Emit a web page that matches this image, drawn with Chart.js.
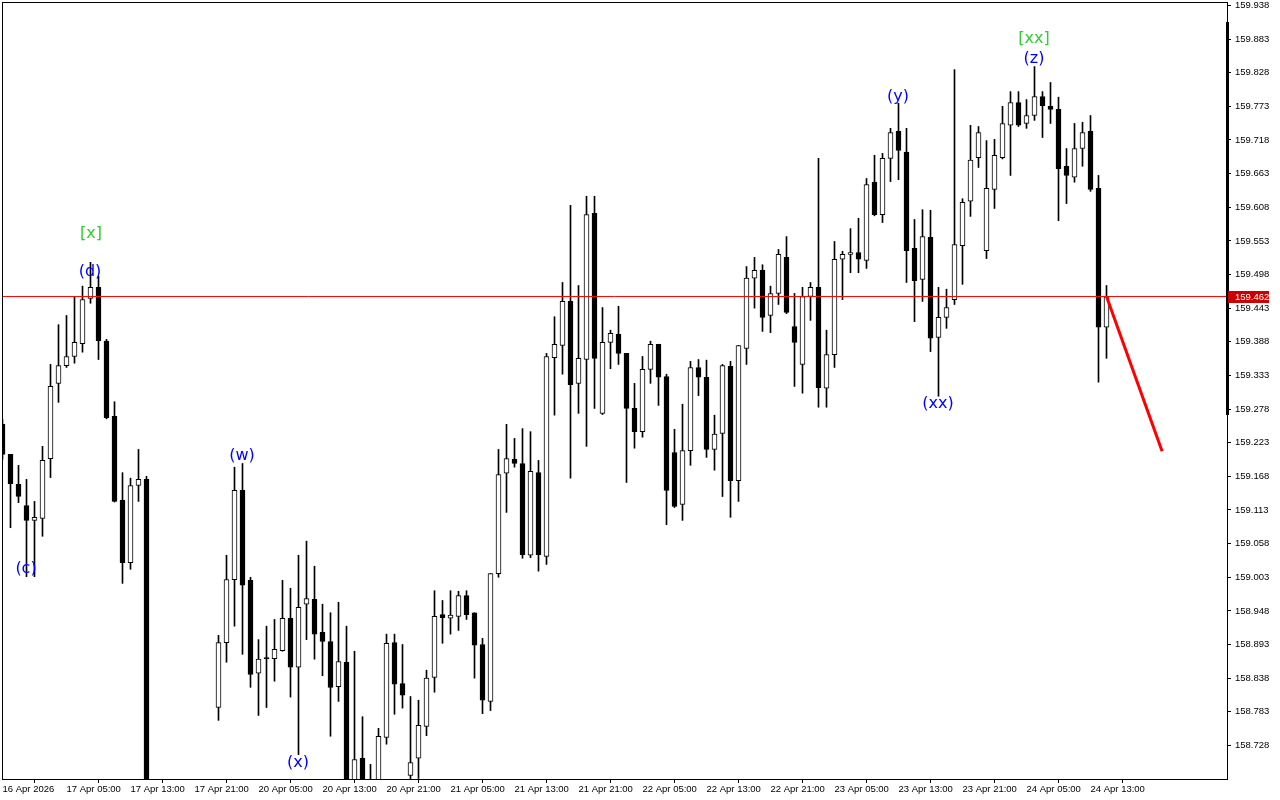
<!DOCTYPE html>
<html>
<head>
<meta charset="utf-8">
<title>H1 candles</title>
<script src="https://cdn.jsdelivr.net/npm/chart.js@4.4.1/dist/chart.umd.min.js"></script>
<style>
  html, body { margin:0; padding:0; background:#fff; }
  #wrap { width:1280px; height:800px; }
</style>
</head>
<body>
<div id="wrap"><canvas id="chart" width="1280" height="800"></canvas></div>
<script>
// ── Candle data (one bar per hour, index = bar number, null = off-screen) ──
const open = [
  159.253,159.204,159.155,159.120,159.096,159.099,159.197,159.320,159.349,159.364,
  159.385,159.459,159.477,159.389,159.266,159.129,159.027,159.153,159.163,null,
  null,null,null,null,null,null,null,158.790,158.896,158.999,
  159.145,158.998,158.846,158.870,158.870,158.883,158.936,158.856,158.959,158.967,
  158.913,158.898,158.824,158.864,158.660,158.707,158.660,158.665,158.741,158.896,
  158.829,158.679,158.707,158.759,158.839,158.942,158.936,158.939,158.973,158.945,
  158.893,158.800,159.009,159.173,159.196,159.189,159.039,159.174,159.037,159.362,
  159.382,159.454,159.320,159.359,159.598,159.271,159.387,159.400,159.369,159.279,
  159.241,159.343,159.384,159.331,159.207,159.122,159.210,159.346,159.330,159.212,
  159.238,159.348,159.161,159.377,159.492,159.505,159.431,159.467,159.526,159.413,
  159.351,159.462,159.477,159.312,159.367,159.523,159.531,159.534,159.521,159.649,
  159.596,159.688,159.732,159.698,159.541,159.490,159.559,159.395,159.428,159.457,
  159.545,159.618,159.689,159.537,159.637,159.689,159.742,159.779,159.745,159.758,
  159.789,159.773,159.768,159.675,159.657,159.704,159.732,159.639,159.412
];
const high = [
  159.261,159.204,159.186,159.163,159.127,159.217,159.351,159.416,159.431,159.462,
  159.479,159.518,159.495,159.392,159.290,159.174,159.165,159.212,159.168,null,
  null,null,null,null,null,null,null,158.908,159.039,159.183,
  159.189,159.003,158.901,158.923,158.934,158.998,158.985,159.039,159.062,159.021,
  158.959,158.945,158.962,158.923,158.882,158.775,158.697,158.756,158.910,158.910,
  158.893,158.808,158.802,158.851,158.981,158.965,158.981,158.980,158.981,158.945,
  158.903,159.009,159.212,159.253,159.230,159.246,159.241,159.194,159.369,159.429,
  159.485,159.611,159.480,159.626,159.626,159.444,159.407,159.446,159.369,159.320,
  159.364,159.389,159.384,159.335,159.245,159.286,159.356,159.359,159.358,159.268,
  159.351,159.356,159.382,159.511,159.526,159.514,159.479,159.539,159.560,159.467,
  159.477,159.485,159.688,159.407,159.552,159.536,159.573,159.590,159.655,159.693,
  159.696,159.737,159.778,159.737,159.588,159.604,159.603,159.477,159.474,159.833,
  159.622,159.742,159.740,159.717,159.719,159.773,159.797,159.797,159.784,159.838,
  159.797,159.812,159.788,159.704,159.745,159.747,159.758,159.660,159.480
];
const low = [
  159.196,159.084,159.125,159.004,159.004,159.070,159.166,159.289,159.346,159.353,
  159.371,159.451,159.359,159.262,159.126,158.993,159.016,159.127,158.600,null,
  null,null,null,null,null,null,null,158.769,158.864,158.923,
  158.877,158.823,158.777,158.790,158.833,158.882,158.807,158.713,158.901,158.869,
  158.842,158.743,158.800,158.640,158.640,158.630,158.620,158.645,158.730,158.779,
  158.789,158.672,158.674,158.744,158.815,158.895,158.910,158.916,158.934,158.838,
  158.780,158.785,159.003,159.109,159.183,159.034,159.035,159.013,159.024,159.268,
  159.335,159.165,159.271,159.217,159.279,159.269,159.344,159.351,159.158,159.214,
  159.232,159.320,159.284,159.089,159.117,159.096,159.186,159.300,159.199,159.178,
  159.135,159.101,159.127,159.351,159.443,159.405,159.403,159.449,159.434,159.315,
  159.304,159.423,159.281,159.281,159.346,159.457,159.501,159.501,159.508,159.594,
  159.583,159.650,159.653,159.485,159.421,159.454,159.372,159.299,159.410,159.449,
  159.482,159.593,159.673,159.524,159.606,159.687,159.660,159.740,159.737,159.750,
  159.722,159.745,159.586,159.614,159.649,159.675,159.634,159.322,159.361
];
const close = [
  159.204,159.156,159.135,159.096,159.101,159.194,159.315,159.349,159.364,159.387,
  159.457,159.477,159.390,159.264,159.127,159.027,159.153,159.163,158.640,null,
  null,null,null,null,null,null,null,158.896,158.999,159.145,
  158.990,158.844,158.869,158.870,158.885,158.936,158.856,158.954,158.968,158.910,
  158.898,158.823,158.865,158.660,158.705,158.665,158.655,158.743,158.895,158.828,
  158.810,158.700,158.761,158.838,158.939,158.937,158.941,158.973,158.942,158.892,
  158.802,159.009,159.171,159.197,159.189,159.040,159.176,159.040,159.364,159.384,
  159.454,159.318,159.361,159.596,159.361,159.387,159.402,159.369,159.279,159.241,
  159.343,159.384,159.330,159.145,159.119,159.210,159.346,159.330,159.212,159.237,
  159.349,159.161,159.382,159.492,159.505,159.428,159.467,159.531,159.436,159.387,
  159.462,159.477,159.313,159.367,159.523,159.531,159.534,159.523,159.645,159.596,
  159.688,159.730,159.701,159.537,159.488,159.560,159.394,159.428,159.444,159.547,
  159.616,159.685,159.730,159.639,159.693,159.745,159.779,159.742,159.758,159.789,
  159.774,159.768,159.671,159.660,159.704,159.730,159.637,159.412,159.462
];

// time axis: a label every 8 bars
const timeTickBars = [0,8,16,24,32,40,48,56,64,72,80,88,96,104,112,120,128,136];
const timeLabels = [
  '16 Apr 2026','17 Apr 05:00','17 Apr 13:00','17 Apr 21:00','20 Apr 05:00','20 Apr 13:00',
  '20 Apr 21:00','21 Apr 05:00','21 Apr 13:00','21 Apr 21:00','22 Apr 05:00','22 Apr 13:00',
  '22 Apr 21:00','23 Apr 05:00','23 Apr 13:00','23 Apr 21:00','24 Apr 05:00','24 Apr 13:00'
];

// price axis
const priceTicks = [
  159.938,159.883,159.828,159.773,159.718,159.663,159.608,159.553,159.498,159.443,159.388,159.333,
  159.278,159.223,159.168,159.113,159.058,159.003,158.948,158.893,158.838,158.783,158.728
];
const lastPrice = 159.462;

// forecast line (bar, price)
const forecastBars = [138, 144.95];
const forecastPrices = [159.462, 159.209];

// wave labels
const waveText   = ['[x]', '(d)', '(c)', '(w)', '(x)', '(y)', '(xx)', '[xx]', '(z)'];
const waveBars   = [11.06, 10.94, 2.94, 29.94, 36.94, 111.94, 116.94, 128.94, 128.94];
const wavePrices = [159.564, 159.503, 159.017, 159.202, 158.699, 159.789, 159.286, 159.884, 159.851];

// visible window
const xMin = -0.0625, xMax = 153.0625;
const yMin = 158.6731, yMax = 159.9436;

const AXIS_FONT = { family:'Liberation Sans', size:9.5 };

// ── build datasets ──
const idx = open.map((_, i) => i).filter(i => open[i] !== null);
const bodyData = idx.map(i => ({ x:i, y:[Math.min(open[i], close[i]), Math.max(open[i], close[i])] }));
const wickData = idx.map(i => ({ x:i, y:[low[i], high[i]] }));
const bodyFill = idx.map(i => close[i] > open[i] ? '#ffffff' : '#000000');

const framePlugin = {
  id:'frame',
  afterDatasetsDraw(chart) {
    const { ctx, scales } = chart;
    ctx.save();
    // wave labels
    ctx.font = '16px "DejaVu Sans"';
    ctx.textAlign = 'center';
    ctx.textBaseline = 'middle';
    waveText.forEach((t, i) => {
      ctx.fillStyle = t.startsWith('[') ? '#32cd32' : '#0000ff';
      ctx.fillText(t, scales.x.getPixelForValue(waveBars[i]), scales.y.getPixelForValue(wavePrices[i]));
    });
    ctx.restore();
  },
  afterDraw(chart) {
    const { ctx, chartArea:a, scales } = chart;
    ctx.save();
    ctx.strokeStyle = '#000';
    ctx.lineWidth = 1;
    ctx.strokeRect(a.left + 0.5, a.top + 0.5, a.width, a.height);
    // scale marker on right border
    ctx.fillStyle = '#000';
    ctx.fillRect(a.right - 1, 22, 3, 393);
    // last price tag
    const y = Math.round(scales.y.getPixelForValue(lastPrice));
    ctx.fillStyle = '#cc0000';
    ctx.fillRect(a.right + 1, y - 6, 41, 12);
    ctx.fillStyle = '#fff';
    ctx.font = '9.5px "Liberation Sans"';
    ctx.textBaseline = 'middle';
    ctx.textAlign = 'left';
    ctx.fillText(lastPrice.toFixed(3), a.right + 8, y + 0.5);
    ctx.restore();
  }
};

new Chart(document.getElementById('chart'), {
  type:'bar',
  data:{ datasets:[
    { type:'line', data:[{x:xMin, y:lastPrice}, {x:xMax, y:lastPrice}], borderColor:'#ff0000', borderWidth:1, pointRadius:0, order:0 },
    { type:'line', data:forecastBars.map((b, i) => ({x:b, y:forecastPrices[i]})), borderColor:'#ff0000', borderWidth:3, pointRadius:0, order:0 },
    { type:'bar', data:bodyData, backgroundColor:bodyFill, borderColor:'#000', borderWidth:1, borderSkipped:false,
      barThickness:5, grouped:false, minBarLength:1, order:1 },
    { type:'bar', data:wickData, backgroundColor:'#000', borderWidth:0, barThickness:1, grouped:false, order:2 }
  ]},
  options:{
    responsive:false, animation:false,
    layout:{ padding:{ left:2, top:2, right:0, bottom:0 } },
    plugins:{ legend:{display:false}, tooltip:{enabled:false} },
    scales:{
      x:{ type:'linear', min:xMin, max:xMax, offset:false,
        afterBuildTicks: s => { s.ticks = timeTickBars.map(v => ({value:v})); },
        afterFit: s => { s.height = 21; s.paddingLeft = 0; s.paddingRight = 0; },
        grid:{ drawOnChartArea:false, drawTicks:true, tickLength:4, color:'#000' },
        border:{ display:false },
        ticks:{ autoSkip:false, maxRotation:0, minRotation:0, align:'start', padding:1, color:'#000', font:AXIS_FONT,
          callback: v => timeLabels[timeTickBars.indexOf(v)] }
      },
      y:{ type:'linear', position:'right', min:yMin, max:yMax,
        afterBuildTicks: s => { s.ticks = priceTicks.map(v => ({value:v})); },
        afterFit: s => { s.width = 53; s.paddingTop = 0; s.paddingBottom = 0; },
        grid:{ drawOnChartArea:false, drawTicks:true, tickLength:4, color:'#000' },
        border:{ display:false },
        ticks:{ padding:4, color:'#000', font:AXIS_FONT, callback: v => v.toFixed(3) }
      }
    }
  },
  plugins:[framePlugin]
});
</script>
</body>
</html>
